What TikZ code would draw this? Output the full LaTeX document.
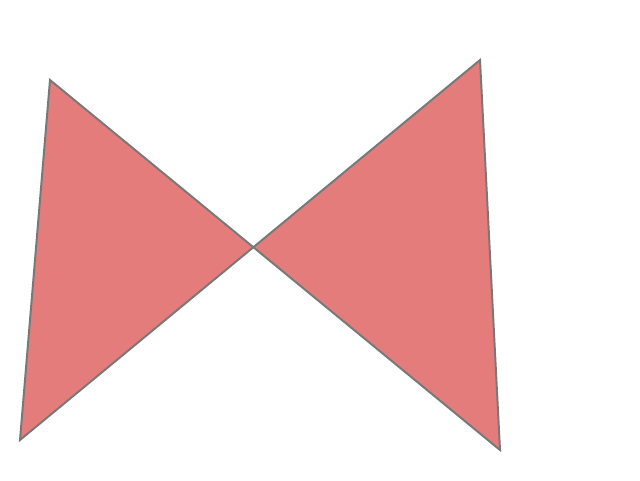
\documentclass[tikz,border=0pt]{standalone}
\definecolor{bowfill}{RGB}{228,124,124}
\definecolor{bowedge}{RGB}{120,120,120}
\tikzset{
    bowtie/.style={fill=bowfill, draw=bowedge, line width=1.4pt, line join=miter}
}
\begin{document}
\begin{tikzpicture}
    % canvas: 1 unit = 40 px
    \useasboundingbox (0, 0) rectangle (16, 12);

    % corners of the bow tie
    \coordinate (topleft) at (1.25, 10);
    \coordinate (botright) at (12.5, 0.75);
    \coordinate (topright) at (12, 10.5);
    \coordinate (botleft) at (0.5, 1);

    \draw[bowtie] (topleft) -- (botright) -- (topright) -- (botleft) -- cycle;
\end{tikzpicture}
\end{document}
